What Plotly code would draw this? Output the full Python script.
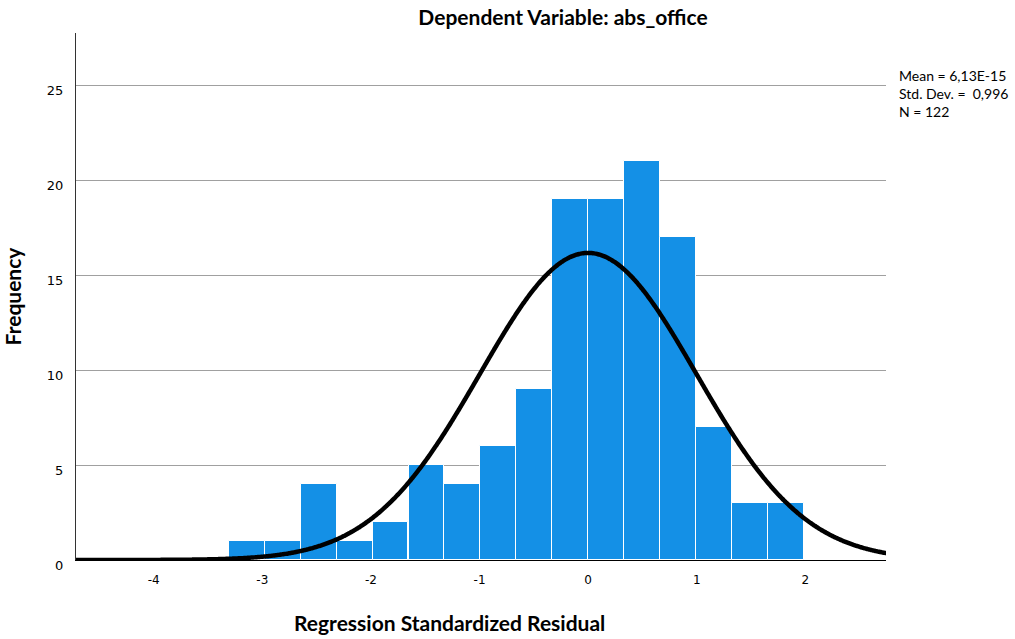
import numpy as np
import plotly.graph_objects as go

# Histogram of regression standardized residuals
bin_width = 0.3308
bin_starts = [-3.308, -2.977, -2.646, -2.316, -1.985, -1.654, -1.323, -0.992,
              -0.662, -0.331, 0.0, 0.331, 0.662, 0.992, 1.323, 1.654]
counts = [1, 1, 4, 1, 2, 5, 4, 6, 9, 19, 19, 21, 17, 7, 3, 3]

mean = 6.13e-15
std_dev = 0.996
n_obs = 122

x_ticks = [-4, -3, -2, -1, 0, 1, 2]
y_ticks = [0, 5, 10, 15, 20, 25]

bar_centers = [s + bin_width / 2 for s in bin_starts]

# Fitted normal curve scaled to the histogram's frequency units
x_curve = np.linspace(-4.72, 2.75, 600)
y_curve = n_obs * bin_width / (std_dev * np.sqrt(2 * np.pi)) * np.exp(
    -0.5 * ((x_curve - mean) / std_dev) ** 2)

fig = go.Figure()
fig.add_trace(go.Bar(
    x=bar_centers, y=counts, width=bin_width,
    marker=dict(color="#1490E6", line=dict(color="white", width=1)),
    showlegend=False, hoverinfo="skip",
))
fig.add_trace(go.Scatter(
    x=x_curve, y=y_curve, mode="lines",
    line=dict(color="black", width=4.5, simplify=False, shape="spline"),
    showlegend=False, hoverinfo="skip", cliponaxis=True,
))

fig.update_layout(
    width=1015, height=639,
    margin=dict(l=73, r=129, t=33, b=79),
    paper_bgcolor="white", plot_bgcolor="white",
    bargap=0,
    title=dict(text="<b>Dependent Variable: abs_office</b>", x=563 / 1015, xanchor="center",
               y=1 - 18 / 639, yanchor="middle",
               font=dict(family="Lato", size=21, color="black")),
    xaxis=dict(
        range=[-4.716, 2.743], tickvals=x_ticks, ticktext=[str(t) for t in x_ticks],
        showgrid=False, zeroline=False, showline=True, linecolor="black", linewidth=1,
        ticks="", ticklabelstandoff=9,
        tickfont=dict(family="DejaVu Sans", size=12, color="black"),
    ),
    yaxis=dict(
        range=[0, 27.74], tickvals=y_ticks, ticktext=[str(t) for t in y_ticks],
        showgrid=True, gridcolor="#A0A0A0", gridwidth=1, zeroline=False,
        showline=True, linecolor="#333333", linewidth=1, ticks="",
        ticklabelstandoff=9, ticklabelshift=5,
        tickfont=dict(family="DejaVu Sans", size=13, color="black"),
        title=dict(text="<b>Frequency</b>", standoff=20,
                   font=dict(family="Lato", size=21, color="black")),
    ),
    annotations=[
        dict(
            xref="paper", yref="paper", x=(897 - 73) / 813, y=(560 - 65) / 527,
            xanchor="left", yanchor="top", align="left", showarrow=False,
            text="Mean = 6,13E-15<br>Std. Dev. =  0,996<br>N = 122",
            font=dict(family="Lato", size=14, color="black"),
        ),
        dict(
            xref="paper", yref="paper", x=(448 - 73) / 813, y=-(622 - 560) / 527,
            xanchor="center", yanchor="middle", showarrow=False,
            text="<b>Regression Standardized Residual</b>",
            font=dict(family="Lato", size=21, color="black"),
        ),
    ],
)

fig.write_html("out.html")
